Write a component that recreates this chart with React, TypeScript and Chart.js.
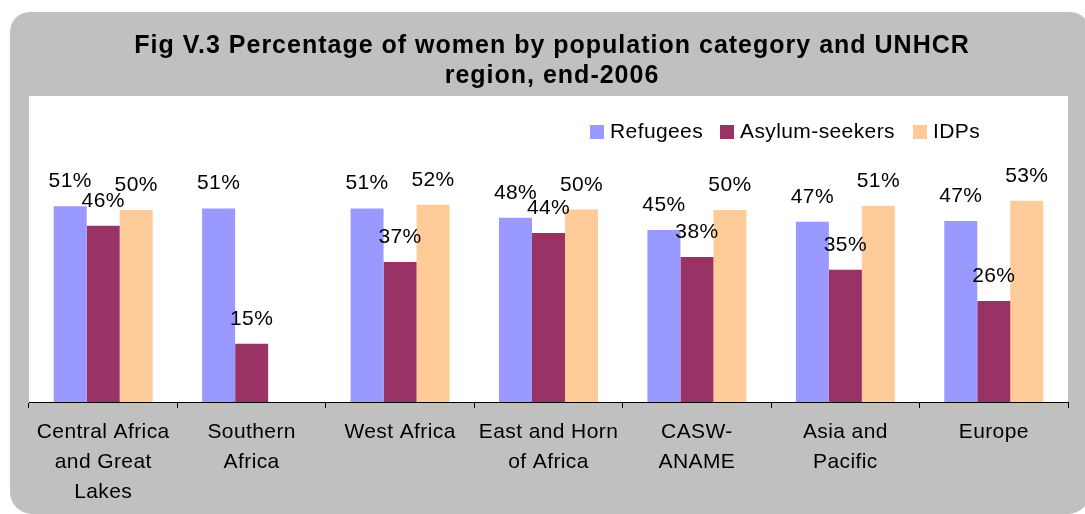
import React, { useEffect, useRef } from "react";
import { Chart, registerables } from "chart.js";

Chart.register(...registerables);

const categories: (string | string[])[] = [
  ["Central Africa", "and Great", "Lakes"],
  ["Southern", "Africa"],
  "West Africa",
  ["East and Horn", "of Africa"],
  ["CASW-", "ANAME"],
  ["Asia and", "Pacific"],
  "Europe",
];
const seriesNames = ["Refugees", "Asylum-seekers", "IDPs"];
const refugees = [51.2, 50.6, 50.6, 48.2, 45.0, 47.1, 47.3];
const asylumSeekers = [46.1, 15.2, 36.6, 44.2, 37.9, 34.6, 26.4];
const idps: (number | null)[] = [50.2, null, 51.6, 50.3, 50.2, 51.3, 52.6];
const seriesColors = ["#9999FF", "#993366", "#FFCC99"];
const titleLines = [
  "Fig V.3 Percentage of women by population category and UNHCR",
  "region, end-2006",
];

const FONT = "'Liberation Sans', Arial, Helvetica, sans-serif";

const backgroundPlugin = {
  id: "bgPlugin",
  beforeDraw(chart: any) {
    const { ctx, chartArea } = chart;
    ctx.save();
    ctx.fillStyle = "#ffffff";
    ctx.fillRect(0, 0, chart.width, chart.height);
    ctx.fillStyle = "#C0C0C0";
    ctx.beginPath();
    (ctx as any).roundRect(10, 12, 1080, 502, [20, 20, 22, 22]);
    ctx.fill();
    ctx.fillStyle = "#ffffff";
    ctx.fillRect(chartArea.left, chartArea.top, chartArea.right - chartArea.left, chartArea.bottom - chartArea.top);
    // title
    ctx.fillStyle = "#000";
    ctx.font = `bold 25px ${FONT}`;
    (ctx as any).letterSpacing = "1px";
    ctx.textAlign = "center";
    ctx.textBaseline = "alphabetic";
    titleLines.forEach((line, i) => ctx.fillText(line, 552, 53 + i * 30));
    ctx.restore();
    (ctx as any).letterSpacing = "0.4px";
  },
};

const legendPlugin = {
  id: "customLegend",
  afterDraw(chart: any) {
    const { ctx } = chart;
    const xs = [590, 720, 913];
    ctx.save();
    ctx.font = `21px ${FONT}`;
    (ctx as any).letterSpacing = "0.4px";
    ctx.textBaseline = "alphabetic";
    ctx.textAlign = "left";
    chart.data.datasets.forEach((ds: any, i: number) => {
      ctx.fillStyle = ds.backgroundColor;
      ctx.fillRect(xs[i], 125, 14, 14);
      ctx.fillStyle = "#000";
      ctx.fillText(ds.label, xs[i] + 20, 138);
    });
    ctx.restore();
    (ctx as any).letterSpacing = "0px";
  },
};

const dataLabelPlugin = {
  id: "dataLabels",
  afterDatasetsDraw(chart: any) {
    const { ctx } = chart;
    ctx.save();
    ctx.font = `21px ${FONT}`;
    (ctx as any).letterSpacing = "0.4px";
    ctx.fillStyle = "#000";
    ctx.textAlign = "center";
    ctx.textBaseline = "alphabetic";
    chart.data.datasets.forEach((ds: any, di: number) => {
      const meta = chart.getDatasetMeta(di);
      meta.data.forEach((el: any, i: number) => {
        const v = ds.data[i];
        if (v === null || v === undefined) return;
        ctx.fillText(`${Math.round(v)}%`, el.x, el.y - 19);
      });
    });
    ctx.restore();
  },
};

export default function App() {
  const canvasRef = useRef<HTMLCanvasElement | null>(null);

  useEffect(() => {
    if (!canvasRef.current) return;
    const chart = new Chart(canvasRef.current, {
      type: "bar",
      data: {
        labels: categories as any,
        datasets: [
          { label: seriesNames[0], data: refugees, backgroundColor: seriesColors[0], borderWidth: 0 },
          { label: seriesNames[1], data: asylumSeekers, backgroundColor: seriesColors[1], borderWidth: 0 },
          { label: seriesNames[2], data: idps as any, backgroundColor: seriesColors[2], borderWidth: 0 },
        ],
      },
      options: {
        responsive: false,
        animation: false,
        events: [],
        layout: { padding: { left: 29, right: 17, top: 96, bottom: -2 } },
        datasets: { bar: { barPercentage: 1, categoryPercentage: 0.667 } } as any,
        plugins: {
          legend: { display: false },
          tooltip: { enabled: false },
          title: { display: false },
        },
        scales: {
          x: {
            grid: { drawOnChartArea: false, drawTicks: true, tickLength: 6, color: "#000", offset: true },
            border: { display: true, color: "#000", width: 1 },
            ticks: {
              color: "#000",
              font: { family: FONT, size: 21, lineHeight: "30px" } as any,
              padding: 9,
              maxRotation: 0,
              minRotation: 0,
              autoSkip: false,
            },
          },
          y: { display: false, min: 0, max: 80 },
        },
      },
      plugins: [backgroundPlugin, dataLabelPlugin, legendPlugin],
    });
    return () => chart.destroy();
  }, []);

  return (
    <div style={{ position: "fixed", left: 0, top: 0, width: 1085, height: 514 }}>
      <canvas ref={canvasRef} width={1085} height={514} />
    </div>
  );
}
